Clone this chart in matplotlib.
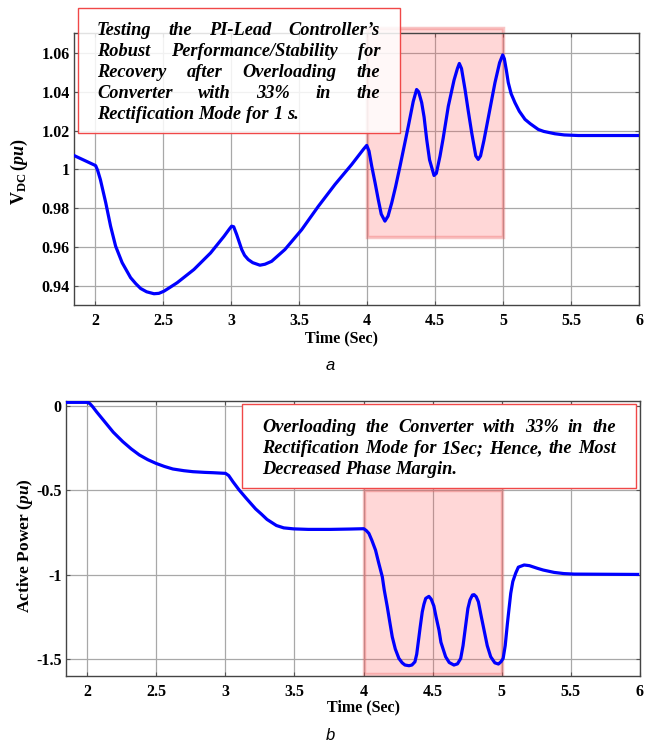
import matplotlib
matplotlib.use("Agg")
import matplotlib.pyplot as plt
from matplotlib.patches import Rectangle

# DC-link voltage (pu) vs time (s)
t_vdc = [1.846, 2.005, 2.02, 2.04, 2.079, 2.115, 2.152, 2.2, 2.262, 2.3, 2.336, 2.38,
         2.434, 2.47, 2.507, 2.55, 2.605, 2.728, 2.85, 2.949, 2.99, 3.005, 3.02, 3.042,
         3.079, 3.1, 3.127, 3.16, 3.213, 3.25, 3.299, 3.397, 3.52, 3.642, 3.765, 3.888,
         3.975, 3.998, 4.015, 4.035, 4.06, 4.083, 4.105, 4.132, 4.155, 4.182, 4.21,
         4.243, 4.304, 4.34, 4.365, 4.38, 4.402, 4.42, 4.439, 4.46, 4.493, 4.51, 4.537,
         4.56, 4.598, 4.64, 4.665, 4.679, 4.695, 4.721, 4.745, 4.77, 4.8, 4.818, 4.835,
         4.86, 4.88, 4.92, 4.941, 4.975, 4.998, 5.01, 5.025, 5.039, 5.06, 5.088, 5.12,
         5.162, 5.2, 5.26, 5.3, 5.382, 5.45, 5.554, 5.995]
vdc = [1.0072, 1.002, 0.9995, 0.9948, 0.983, 0.9708, 0.9605, 0.952, 0.9443, 0.9412,
       0.9387, 0.937, 0.936, 0.9362, 0.9373, 0.9392, 0.9417, 0.9485, 0.957, 0.9656,
       0.9695, 0.9708, 0.9705, 0.9665, 0.9588, 0.9558, 0.9536, 0.952, 0.9507, 0.9512,
       0.9527, 0.9588, 0.969, 0.981, 0.9923, 1.0026, 1.0105, 1.0124, 1.0095, 1.0017,
       0.993, 0.9845, 0.977, 0.9734, 0.976, 0.9828, 0.991, 1.0017, 1.0223, 1.035,
       1.0412, 1.040, 1.0345, 1.027, 1.0155, 1.005, 0.9969, 0.998, 1.0069, 1.016,
       1.0326, 1.046, 1.052, 1.0546, 1.052, 1.0412, 1.030, 1.0189, 1.007, 1.0052,
       1.007, 1.015, 1.0223, 1.037, 1.0447, 1.055, 1.0590, 1.057, 1.051, 1.0447,
       1.039, 1.0344, 1.030, 1.0258, 1.0236, 1.0206, 1.0196, 1.0184, 1.0178, 1.0175,
       1.0175]

# active power (pu) vs time (s)
t_p = [1.848, 2.005, 2.02, 2.041, 2.07, 2.138, 2.19, 2.259, 2.32, 2.379, 2.44, 2.5,
       2.56, 2.621, 2.7, 2.766, 2.85, 2.911, 3.002, 3.025, 3.056, 3.1, 3.152, 3.22,
       3.261, 3.302, 3.37, 3.423, 3.495, 3.6, 3.761, 3.9, 4.002, 4.02, 4.039, 4.06,
       4.087, 4.11, 4.136, 4.15, 4.172, 4.19, 4.208, 4.23, 4.256, 4.28, 4.3, 4.329,
       4.35, 4.372, 4.385, 4.401, 4.41, 4.425, 4.437, 4.45, 4.473, 4.49, 4.509, 4.525,
       4.546, 4.56, 4.594, 4.62, 4.654, 4.68, 4.703, 4.72, 4.739, 4.755, 4.77, 4.788,
       4.8, 4.815, 4.831, 4.85, 4.872, 4.895, 4.92, 4.95, 4.976, 4.995, 5.01, 5.025,
       5.041, 5.05, 5.065, 5.08, 5.101, 5.12, 5.162, 5.2, 5.259, 5.3, 5.379, 5.45,
       5.524, 5.983]
p = [0.022, 0.022, 0.015, -0.004, -0.035, -0.103, -0.155, -0.211, -0.254, -0.290,
     -0.318, -0.340, -0.358, -0.373, -0.383, -0.389, -0.393, -0.395, -0.399, -0.412,
     -0.449, -0.497, -0.547, -0.610, -0.640, -0.672, -0.708, -0.722, -0.728, -0.731,
     -0.731, -0.729, -0.727, -0.738, -0.755, -0.795, -0.854, -0.93, -1.012, -1.09,
     -1.19, -1.28, -1.368, -1.44, -1.496, -1.522, -1.535, -1.539, -1.535, -1.516,
     -1.47, -1.368, -1.31, -1.22, -1.175, -1.14, -1.128, -1.145, -1.185, -1.25,
     -1.328, -1.40, -1.486, -1.52, -1.535, -1.528, -1.496, -1.42, -1.3, -1.2, -1.15,
     -1.12, -1.118, -1.13, -1.16, -1.24, -1.328, -1.42, -1.486, -1.522, -1.529,
     -1.515, -1.496, -1.42, -1.288, -1.22, -1.11, -1.04, -0.99, -0.955, -0.942,
     -0.946, -0.962, -0.972, -0.986, -0.993, -0.996, -0.998]

x_ticks = [2, 2.5, 3, 3.5, 4, 4.5, 5, 5.5, 6]
x_ticklabels = ['2', '2.5', '3', '3.5', '4', '4.5', '5', '5.5', '6']
vdc_ticks = [0.94, 0.96, 0.98, 1.0, 1.02, 1.04, 1.06]
vdc_ticklabels = ['0.94', '0.96', '0.98', '1', '1.02', '1.04', '1.06']
p_ticks = [-1.5, -1, -0.5, 0]
p_ticklabels = ['-1.5', '-1', '-0.5', '0']

overload = (4.0, 5.0)

note_a = ["Testing the PI-Lead Controller\u2019s",
          "Robust Performance/Stability for",
          "Recovery after Overloading the",
          "Converter with 33% in the",
          "Rectification Mode for 1 s."]
note_b = ["Overloading the Converter with 33% in the",
          "Rectification Mode for 1Sec; Hence, the Most",
          "Decreased Phase Margin."]

plt.rcParams['mathtext.fontset'] = 'custom'
plt.rcParams['mathtext.rm'] = 'Liberation Serif:bold'
plt.rcParams['mathtext.it'] = 'Liberation Serif:bold:italic'
plt.rcParams['mathtext.bf'] = 'Liberation Serif:bold'

W, H = 656, 743
fig = plt.figure(figsize=(W / 100, H / 100), dpi=100)

serif_b = dict(family='Liberation Serif', weight='bold')


def fx(px):
    return px / W


def fy(py):
    return 1 - py / H


def style_axes(ax, yticks, ylabels):
    ax.set_xticks(x_ticks)
    ax.set_xticklabels(x_ticklabels, fontdict=dict(size=11.5, **serif_b))
    ax.set_yticks(yticks)
    ax.set_yticklabels(ylabels, fontdict=dict(size=11.5, **serif_b))
    ax.grid(True, color='#a8a8a8', linewidth=0.9)
    ax.tick_params(direction='in', length=3, width=0.8, top=True, right=True,
                   color='#555555')
    ax.tick_params(axis='x', pad=6)
    ax.tick_params(axis='y', pad=3)
    for s in ax.spines.values():
        s.set_color('#444444')
        s.set_linewidth(1.0)
    ax.set_axisbelow(True)


def shade(ax, y0, y1):
    ax.add_patch(Rectangle((overload[0], y0), overload[1] - overload[0], y1 - y0,
                           facecolor=(1, 0.3, 0.3, 0.22), edgecolor=(0.93, 0.35, 0.35, 0.35),
                           linewidth=2.5, zorder=1.5, clip_on=False))


def justified(lines, left, right, baselines, size, last_full=False):
    r = fig.canvas.get_renderer()
    for i, (line, yb) in enumerate(zip(lines, baselines)):
        words = line.split(' ')
        texts = [fig.text(0, fy(yb), w, fontsize=size, family='Liberation Serif',
                          weight='bold', style='italic', va='baseline', zorder=10)
                 for w in words]
        widths = [t.get_window_extent(r).width for t in texts]
        last = i == len(lines) - 1
        if len(words) > 1 and (not last or last_full):
            gap = (right - left - sum(widths)) / (len(words) - 1)
        else:
            gap = r.points_to_pixels(size) * 0.25
        x = left
        for t, w in zip(texts, widths):
            t.set_x(fx(x))
            x += w + gap


# --- panel a ---
ax1 = fig.add_axes([fx(74), fy(305), fx(639) - fx(74), fy(33) - fy(305)])
ax1.plot(t_vdc, vdc, color='#0000ff', linewidth=2.3, zorder=3)
ax1.set_xlim(1.846, 6)
ax1.set_ylim(0.9302, 1.0703)
style_axes(ax1, vdc_ticks, vdc_ticklabels)
shade(ax1, 0.965, 1.0728)
ax1.set_xlabel('Time (Sec)', fontsize=11.5, **serif_b)
ax1.xaxis.set_label_coords(0.474, -0.092)
ax1.set_ylabel(r'$\mathrm{V}_{\mathrm{DC}}\,(\mathit{pu})$', fontsize=13)
ax1.yaxis.set_label_coords(-0.097, 0.49)
ax1.yaxis.label.set_va('center')

fig.add_artist(Rectangle((fx(78), fy(133)), fx(400) - fx(78), fy(8) - fy(133),
                         transform=fig.transFigure, facecolor=(1, 1, 1, 0.85),
                         edgecolor='#f04848', linewidth=1.0, zorder=9))
justified(note_a, 97, 380, [35, 56, 77, 98, 119], 13.2)

fig.text(fx(330), fy(365), 'a', fontsize=12, style='italic', family='Liberation Sans',
         ha='center', va='center')

# --- panel b ---
ax2 = fig.add_axes([fx(66), fy(676), fx(640) - fx(66), fy(401) - fy(676)])
ax2.plot(t_p, p, color='#0000ff', linewidth=2.3, zorder=3)
ax2.set_xlim(1.848, 6)
ax2.set_ylim(-1.6, 0.03)
style_axes(ax2, p_ticks, p_ticklabels)
shade(ax2, -1.589, -0.498)
ax2.set_xlabel('Time (Sec)', fontsize=11.5, **serif_b)
ax2.xaxis.set_label_coords(0.519, -0.085)
ax2.set_ylabel(r'$\mathrm{Active\ Power}\ (\mathit{pu})$', fontsize=12.5)
ax2.yaxis.set_label_coords(-0.0714, 0.473)
ax2.yaxis.label.set_va('center')

fig.add_artist(Rectangle((fx(242), fy(488)), fx(636) - fx(242), fy(404) - fy(488),
                         transform=fig.transFigure, facecolor='white',
                         edgecolor='#f04848', linewidth=1.0, zorder=9))
justified(note_b, 262, 616, [431.5, 453, 474.5], 13.2)

fig.text(fx(330), fy(735), 'b', fontsize=12, style='italic', family='Liberation Sans',
         ha='center', va='center')

fig.savefig('out.png', dpi=100)
